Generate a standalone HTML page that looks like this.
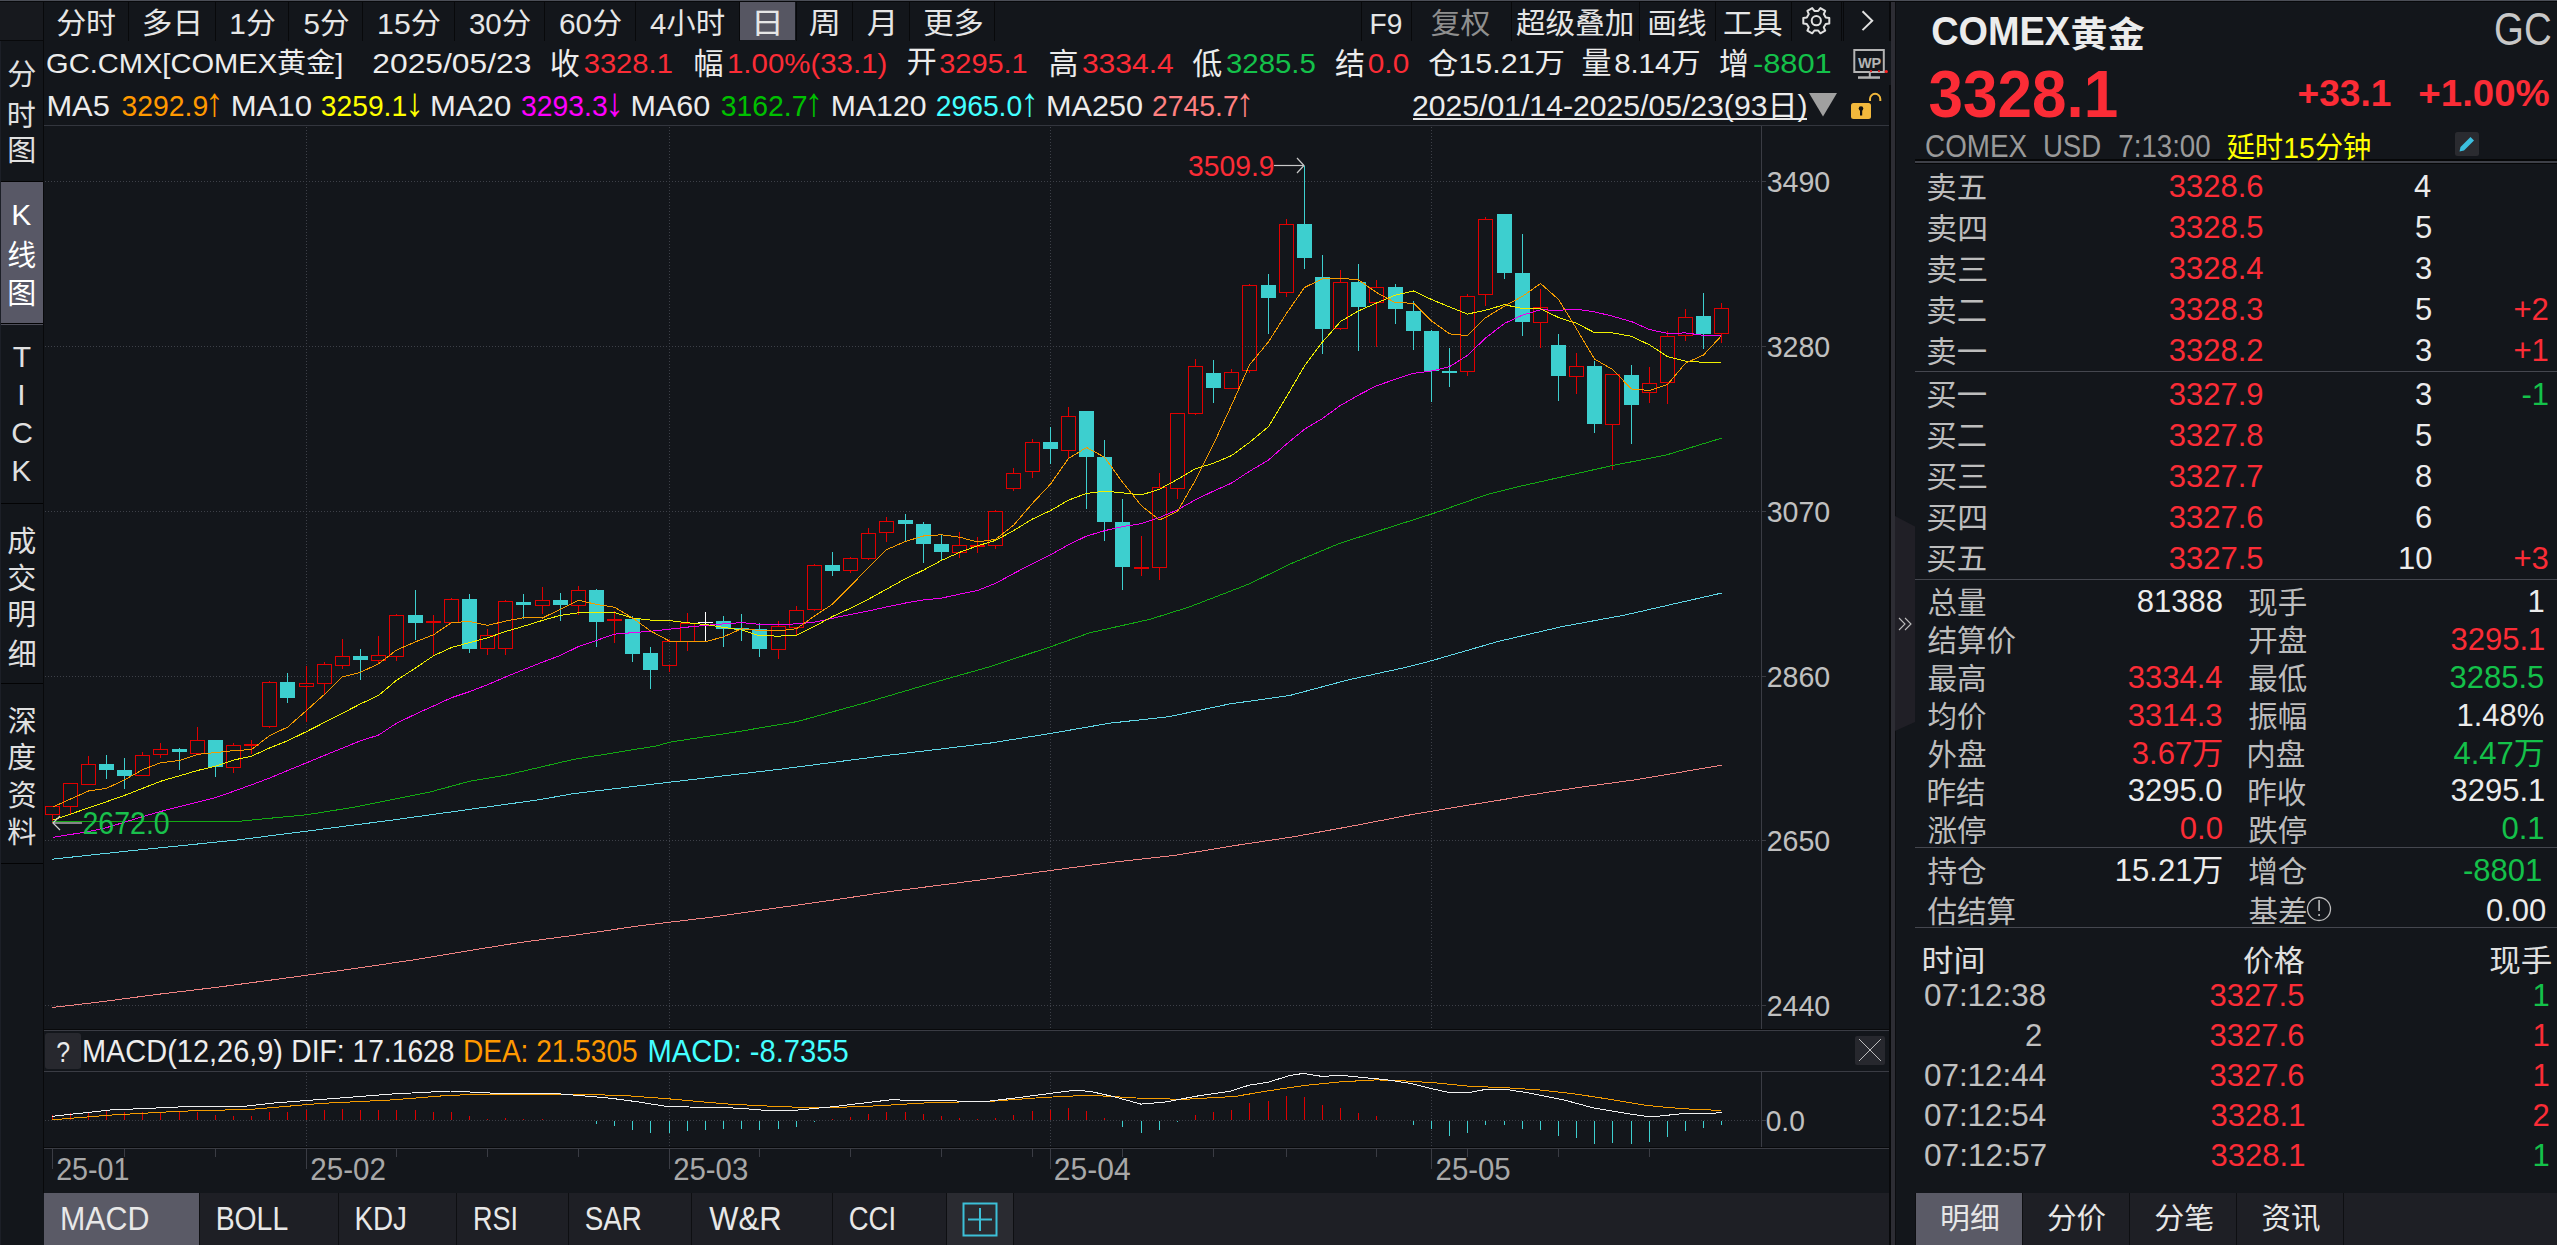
<!DOCTYPE html>
<html><head><meta charset="utf-8"><title>COMEX黄金 GC K线图</title>
<style>html,body{margin:0;padding:0;background:#13161b;overflow:hidden;} svg{display:block;}</style></head>
<body><svg width="2557" height="1245" viewBox="0 0 2557 1245"><rect x="0" y="0" width="2557" height="1245" fill="#13161b" shape-rendering="crispEdges" />
<rect x="0" y="0" width="2557" height="1" fill="#4b4e57" shape-rendering="crispEdges"/>
<rect x="0" y="1" width="2557" height="1" fill="#08090b" shape-rendering="crispEdges"/>
<rect x="0" y="2" width="43" height="38" fill="#17191e" shape-rendering="crispEdges" />
<rect x="0" y="40" width="44" height="1" fill="#08090b" shape-rendering="crispEdges"/>
<rect x="1" y="181" width="42" height="1" fill="#030304" shape-rendering="crispEdges"/>
<rect x="1" y="323" width="42" height="1" fill="#030304" shape-rendering="crispEdges"/>
<rect x="1" y="503" width="42" height="1" fill="#030304" shape-rendering="crispEdges"/>
<rect x="1" y="683" width="42" height="1" fill="#030304" shape-rendering="crispEdges"/>
<rect x="1" y="863" width="42" height="1" fill="#030304" shape-rendering="crispEdges"/>
<rect x="1" y="324" width="42" height="1" fill="#4e4e5a" shape-rendering="crispEdges"/>
<rect x="0" y="41" width="1" height="1204" fill="#1c1f27" shape-rendering="crispEdges"/>
<rect x="43" y="2" width="1" height="1191" fill="#08090b" shape-rendering="crispEdges"/>
<rect x="1" y="182" width="42" height="141" fill="#585866" shape-rendering="crispEdges" />
<rect x="128" y="2" width="1" height="39" fill="#08090b" shape-rendering="crispEdges"/>
<rect x="215" y="2" width="1" height="39" fill="#08090b" shape-rendering="crispEdges"/>
<rect x="288" y="2" width="1" height="39" fill="#08090b" shape-rendering="crispEdges"/>
<rect x="362" y="2" width="1" height="39" fill="#08090b" shape-rendering="crispEdges"/>
<rect x="454" y="2" width="1" height="39" fill="#08090b" shape-rendering="crispEdges"/>
<rect x="544" y="2" width="1" height="39" fill="#08090b" shape-rendering="crispEdges"/>
<rect x="635" y="2" width="1" height="39" fill="#08090b" shape-rendering="crispEdges"/>
<rect x="739" y="2" width="1" height="39" fill="#08090b" shape-rendering="crispEdges"/>
<rect x="796" y="2" width="1" height="39" fill="#08090b" shape-rendering="crispEdges"/>
<rect x="852" y="2" width="1" height="39" fill="#08090b" shape-rendering="crispEdges"/>
<rect x="909" y="2" width="1" height="39" fill="#08090b" shape-rendering="crispEdges"/>
<rect x="994" y="2" width="1" height="39" fill="#08090b" shape-rendering="crispEdges"/>
<rect x="1361" y="2" width="1" height="39" fill="#08090b" shape-rendering="crispEdges"/>
<rect x="1411" y="2" width="1" height="39" fill="#08090b" shape-rendering="crispEdges"/>
<rect x="1511" y="2" width="1" height="39" fill="#08090b" shape-rendering="crispEdges"/>
<rect x="1639" y="2" width="1" height="39" fill="#08090b" shape-rendering="crispEdges"/>
<rect x="1715" y="2" width="1" height="39" fill="#08090b" shape-rendering="crispEdges"/>
<rect x="1791" y="2" width="1" height="39" fill="#08090b" shape-rendering="crispEdges"/>
<rect x="1841" y="2" width="1" height="39" fill="#08090b" shape-rendering="crispEdges"/>
<rect x="1843" y="2" width="1" height="39" fill="#08090b" shape-rendering="crispEdges"/>
<rect x="740" y="2" width="55" height="38" fill="#565662" shape-rendering="crispEdges" />
<rect x="44" y="125" width="1845" height="1" fill="#33363e" shape-rendering="crispEdges"/>
<rect x="1889" y="2" width="2" height="39" fill="#08090b" shape-rendering="crispEdges"/>
<rect x="1889" y="85" width="2" height="1160" fill="#08090b" shape-rendering="crispEdges"/>
<rect x="1891" y="2" width="4" height="1243" fill="#2d2d34" shape-rendering="crispEdges"/>
<rect x="1895" y="2" width="1" height="1243" fill="#0c0d10" shape-rendering="crispEdges"/>
<rect x="1761" y="126" width="1" height="903" fill="#3a3c44" shape-rendering="crispEdges"/>
<rect x="1761" y="1072" width="1" height="75" fill="#3a3c44" shape-rendering="crispEdges"/>
<rect x="44" y="1029" width="1845" height="1" fill="#08090b" shape-rendering="crispEdges"/>
<rect x="44" y="1030" width="1845" height="1" fill="#3a3c44" shape-rendering="crispEdges"/>
<rect x="44" y="1071" width="1845" height="1" fill="#3a3c44" shape-rendering="crispEdges"/>
<rect x="44" y="1147" width="1845" height="1" fill="#08090b" shape-rendering="crispEdges"/>
<rect x="44" y="1148" width="1845" height="1" fill="#3a3c44" shape-rendering="crispEdges"/>
<line x1="45" y1="181.5" x2="1761" y2="181.5" stroke="#3d4048" stroke-width="1" stroke-dasharray="1 2"/>
<rect x="1762" y="181" width="4" height="1" fill="#3a3c44" shape-rendering="crispEdges"/>
<line x1="45" y1="346.5" x2="1761" y2="346.5" stroke="#3d4048" stroke-width="1" stroke-dasharray="1 2"/>
<rect x="1762" y="346" width="4" height="1" fill="#3a3c44" shape-rendering="crispEdges"/>
<line x1="45" y1="511.5" x2="1761" y2="511.5" stroke="#3d4048" stroke-width="1" stroke-dasharray="1 2"/>
<rect x="1762" y="511" width="4" height="1" fill="#3a3c44" shape-rendering="crispEdges"/>
<line x1="45" y1="676.5" x2="1761" y2="676.5" stroke="#3d4048" stroke-width="1" stroke-dasharray="1 2"/>
<rect x="1762" y="676" width="4" height="1" fill="#3a3c44" shape-rendering="crispEdges"/>
<line x1="45" y1="840.5" x2="1761" y2="840.5" stroke="#3d4048" stroke-width="1" stroke-dasharray="1 2"/>
<rect x="1762" y="840" width="4" height="1" fill="#3a3c44" shape-rendering="crispEdges"/>
<line x1="45" y1="1005.5" x2="1761" y2="1005.5" stroke="#3d4048" stroke-width="1" stroke-dasharray="1 2"/>
<rect x="1762" y="1005" width="4" height="1" fill="#3a3c44" shape-rendering="crispEdges"/>
<line x1="306.5" y1="127" x2="306.5" y2="1029" stroke="#3d4048" stroke-width="1" stroke-dasharray="1 2"/>
<line x1="306.5" y1="1073" x2="306.5" y2="1147" stroke="#3d4048" stroke-width="1" stroke-dasharray="1 2"/>
<line x1="669.5" y1="127" x2="669.5" y2="1029" stroke="#3d4048" stroke-width="1" stroke-dasharray="1 2"/>
<line x1="669.5" y1="1073" x2="669.5" y2="1147" stroke="#3d4048" stroke-width="1" stroke-dasharray="1 2"/>
<line x1="1050.5" y1="127" x2="1050.5" y2="1029" stroke="#3d4048" stroke-width="1" stroke-dasharray="1 2"/>
<line x1="1050.5" y1="1073" x2="1050.5" y2="1147" stroke="#3d4048" stroke-width="1" stroke-dasharray="1 2"/>
<line x1="1431.5" y1="127" x2="1431.5" y2="1029" stroke="#3d4048" stroke-width="1" stroke-dasharray="1 2"/>
<line x1="1431.5" y1="1073" x2="1431.5" y2="1147" stroke="#3d4048" stroke-width="1" stroke-dasharray="1 2"/>
<line x1="45" y1="1120.5" x2="1761" y2="1120.5" stroke="#3d4048" stroke-width="1" stroke-dasharray="1 2"/>
<rect x="1762" y="1120" width="4" height="1" fill="#3a3c44" shape-rendering="crispEdges"/>
<rect x="52" y="814" width="1" height="9" fill="#e00000" shape-rendering="crispEdges"/>
<rect x="45.5" y="806.5" width="14" height="8" fill="none" stroke="#e00000" stroke-width="1" shape-rendering="crispEdges"/>
<rect x="70" y="806" width="1" height="8" fill="#e00000" shape-rendering="crispEdges"/>
<rect x="63.5" y="783.5" width="14" height="23" fill="none" stroke="#e00000" stroke-width="1" shape-rendering="crispEdges"/>
<rect x="88" y="756" width="1" height="8" fill="#e00000" shape-rendering="crispEdges"/>
<rect x="81.5" y="764.5" width="14" height="20" fill="none" stroke="#e00000" stroke-width="1" shape-rendering="crispEdges"/>
<rect x="106" y="755" width="1" height="24" fill="#3dcfcf" shape-rendering="crispEdges"/>
<rect x="99" y="764" width="15" height="6" fill="#3dcfcf" shape-rendering="crispEdges" />
<rect x="124" y="758" width="1" height="31" fill="#3dcfcf" shape-rendering="crispEdges"/>
<rect x="117" y="770" width="15" height="6" fill="#3dcfcf" shape-rendering="crispEdges" />
<rect x="142" y="752" width="1" height="3" fill="#e00000" shape-rendering="crispEdges"/>
<rect x="135.5" y="755.5" width="14" height="20" fill="none" stroke="#e00000" stroke-width="1" shape-rendering="crispEdges"/>
<rect x="160" y="743" width="1" height="6" fill="#e00000" shape-rendering="crispEdges"/>
<rect x="160" y="754" width="1" height="4" fill="#e00000" shape-rendering="crispEdges"/>
<rect x="153.5" y="749.5" width="14" height="5" fill="none" stroke="#e00000" stroke-width="1" shape-rendering="crispEdges"/>
<rect x="179" y="748" width="1" height="22" fill="#3dcfcf" shape-rendering="crispEdges"/>
<rect x="172" y="749" width="15" height="3" fill="#3dcfcf" shape-rendering="crispEdges" />
<rect x="197" y="727" width="1" height="13" fill="#e00000" shape-rendering="crispEdges"/>
<rect x="190.5" y="740.5" width="14" height="13" fill="none" stroke="#e00000" stroke-width="1" shape-rendering="crispEdges"/>
<rect x="215" y="740" width="1" height="37" fill="#3dcfcf" shape-rendering="crispEdges"/>
<rect x="208" y="740" width="15" height="27" fill="#3dcfcf" shape-rendering="crispEdges" />
<rect x="233" y="743" width="1" height="2" fill="#e00000" shape-rendering="crispEdges"/>
<rect x="233" y="767" width="1" height="6" fill="#e00000" shape-rendering="crispEdges"/>
<rect x="226.5" y="745.5" width="14" height="22" fill="none" stroke="#e00000" stroke-width="1" shape-rendering="crispEdges"/>
<rect x="251" y="740" width="1" height="4" fill="#e00000" shape-rendering="crispEdges"/>
<rect x="251" y="745" width="1" height="9" fill="#e00000" shape-rendering="crispEdges"/>
<rect x="244" y="744" width="15" height="2" fill="#e00000" shape-rendering="crispEdges" />
<rect x="269" y="681" width="1" height="1" fill="#e00000" shape-rendering="crispEdges"/>
<rect x="269" y="726" width="1" height="2" fill="#e00000" shape-rendering="crispEdges"/>
<rect x="262.5" y="682.5" width="14" height="44" fill="none" stroke="#e00000" stroke-width="1" shape-rendering="crispEdges"/>
<rect x="287" y="673" width="1" height="30" fill="#3dcfcf" shape-rendering="crispEdges"/>
<rect x="280" y="682" width="15" height="16" fill="#3dcfcf" shape-rendering="crispEdges" />
<rect x="306" y="666" width="1" height="17" fill="#e00000" shape-rendering="crispEdges"/>
<rect x="306" y="686" width="1" height="36" fill="#e00000" shape-rendering="crispEdges"/>
<rect x="299.5" y="683.5" width="14" height="3" fill="none" stroke="#e00000" stroke-width="1" shape-rendering="crispEdges"/>
<rect x="324" y="662" width="1" height="2" fill="#e00000" shape-rendering="crispEdges"/>
<rect x="324" y="683" width="1" height="11" fill="#e00000" shape-rendering="crispEdges"/>
<rect x="317.5" y="664.5" width="14" height="19" fill="none" stroke="#e00000" stroke-width="1" shape-rendering="crispEdges"/>
<rect x="342" y="639" width="1" height="17" fill="#e00000" shape-rendering="crispEdges"/>
<rect x="342" y="665" width="1" height="4" fill="#e00000" shape-rendering="crispEdges"/>
<rect x="335.5" y="656.5" width="14" height="9" fill="none" stroke="#e00000" stroke-width="1" shape-rendering="crispEdges"/>
<rect x="360" y="649" width="1" height="31" fill="#3dcfcf" shape-rendering="crispEdges"/>
<rect x="353" y="656" width="15" height="4" fill="#3dcfcf" shape-rendering="crispEdges" />
<rect x="378" y="636" width="1" height="19" fill="#e00000" shape-rendering="crispEdges"/>
<rect x="378" y="660" width="1" height="4" fill="#e00000" shape-rendering="crispEdges"/>
<rect x="371.5" y="655.5" width="14" height="5" fill="none" stroke="#e00000" stroke-width="1" shape-rendering="crispEdges"/>
<rect x="396" y="614" width="1" height="1" fill="#e00000" shape-rendering="crispEdges"/>
<rect x="396" y="656" width="1" height="5" fill="#e00000" shape-rendering="crispEdges"/>
<rect x="389.5" y="615.5" width="14" height="41" fill="none" stroke="#e00000" stroke-width="1" shape-rendering="crispEdges"/>
<rect x="415" y="590" width="1" height="50" fill="#3dcfcf" shape-rendering="crispEdges"/>
<rect x="408" y="615" width="15" height="8" fill="#3dcfcf" shape-rendering="crispEdges" />
<rect x="433" y="615" width="1" height="6" fill="#e00000" shape-rendering="crispEdges"/>
<rect x="433" y="623" width="1" height="33" fill="#e00000" shape-rendering="crispEdges"/>
<rect x="426" y="621" width="15" height="2" fill="#e00000" shape-rendering="crispEdges" />
<rect x="451" y="598" width="1" height="1" fill="#e00000" shape-rendering="crispEdges"/>
<rect x="444.5" y="599.5" width="14" height="23" fill="none" stroke="#e00000" stroke-width="1" shape-rendering="crispEdges"/>
<rect x="469" y="594" width="1" height="59" fill="#3dcfcf" shape-rendering="crispEdges"/>
<rect x="462" y="599" width="15" height="50" fill="#3dcfcf" shape-rendering="crispEdges" />
<rect x="487" y="629" width="1" height="6" fill="#e00000" shape-rendering="crispEdges"/>
<rect x="487" y="648" width="1" height="7" fill="#e00000" shape-rendering="crispEdges"/>
<rect x="480.5" y="635.5" width="14" height="13" fill="none" stroke="#e00000" stroke-width="1" shape-rendering="crispEdges"/>
<rect x="505" y="600" width="1" height="1" fill="#e00000" shape-rendering="crispEdges"/>
<rect x="505" y="648" width="1" height="7" fill="#e00000" shape-rendering="crispEdges"/>
<rect x="498.5" y="601.5" width="14" height="47" fill="none" stroke="#e00000" stroke-width="1" shape-rendering="crispEdges"/>
<rect x="523" y="594" width="1" height="25" fill="#3dcfcf" shape-rendering="crispEdges"/>
<rect x="516" y="602" width="15" height="3" fill="#3dcfcf" shape-rendering="crispEdges" />
<rect x="542" y="587" width="1" height="13" fill="#e00000" shape-rendering="crispEdges"/>
<rect x="542" y="605" width="1" height="9" fill="#e00000" shape-rendering="crispEdges"/>
<rect x="535.5" y="600.5" width="14" height="5" fill="none" stroke="#e00000" stroke-width="1" shape-rendering="crispEdges"/>
<rect x="560" y="593" width="1" height="28" fill="#3dcfcf" shape-rendering="crispEdges"/>
<rect x="553" y="600" width="15" height="5" fill="#3dcfcf" shape-rendering="crispEdges" />
<rect x="578" y="586" width="1" height="4" fill="#e00000" shape-rendering="crispEdges"/>
<rect x="578" y="605" width="1" height="10" fill="#e00000" shape-rendering="crispEdges"/>
<rect x="571.5" y="590.5" width="14" height="15" fill="none" stroke="#e00000" stroke-width="1" shape-rendering="crispEdges"/>
<rect x="596" y="589" width="1" height="58" fill="#3dcfcf" shape-rendering="crispEdges"/>
<rect x="589" y="590" width="15" height="32" fill="#3dcfcf" shape-rendering="crispEdges" />
<rect x="614" y="611" width="1" height="8" fill="#e00000" shape-rendering="crispEdges"/>
<rect x="614" y="621" width="1" height="22" fill="#e00000" shape-rendering="crispEdges"/>
<rect x="607" y="619" width="15" height="2" fill="#e00000" shape-rendering="crispEdges" />
<rect x="632" y="616" width="1" height="46" fill="#3dcfcf" shape-rendering="crispEdges"/>
<rect x="625" y="619" width="15" height="35" fill="#3dcfcf" shape-rendering="crispEdges" />
<rect x="650" y="647" width="1" height="42" fill="#3dcfcf" shape-rendering="crispEdges"/>
<rect x="643" y="653" width="15" height="17" fill="#3dcfcf" shape-rendering="crispEdges" />
<rect x="669" y="639" width="1" height="2" fill="#e00000" shape-rendering="crispEdges"/>
<rect x="669" y="665" width="1" height="7" fill="#e00000" shape-rendering="crispEdges"/>
<rect x="662.5" y="641.5" width="14" height="24" fill="none" stroke="#e00000" stroke-width="1" shape-rendering="crispEdges"/>
<rect x="687" y="613" width="1" height="10" fill="#e00000" shape-rendering="crispEdges"/>
<rect x="687" y="641" width="1" height="10" fill="#e00000" shape-rendering="crispEdges"/>
<rect x="680.5" y="623.5" width="14" height="18" fill="none" stroke="#e00000" stroke-width="1" shape-rendering="crispEdges"/>
<rect x="705" y="612" width="1" height="30" fill="#ffffff" shape-rendering="crispEdges"/>
<rect x="698" y="622" width="15" height="1" fill="#ffffff" shape-rendering="crispEdges" />
<rect x="723" y="616" width="1" height="31" fill="#3dcfcf" shape-rendering="crispEdges"/>
<rect x="716" y="621" width="15" height="8" fill="#3dcfcf" shape-rendering="crispEdges" />
<rect x="741" y="614" width="1" height="27" fill="#3dcfcf" shape-rendering="crispEdges"/>
<rect x="734" y="628" width="15" height="2" fill="#3dcfcf" shape-rendering="crispEdges" />
<rect x="759" y="623" width="1" height="34" fill="#3dcfcf" shape-rendering="crispEdges"/>
<rect x="752" y="629" width="15" height="20" fill="#3dcfcf" shape-rendering="crispEdges" />
<rect x="778" y="621" width="1" height="5" fill="#e00000" shape-rendering="crispEdges"/>
<rect x="778" y="649" width="1" height="10" fill="#e00000" shape-rendering="crispEdges"/>
<rect x="771.5" y="626.5" width="14" height="23" fill="none" stroke="#e00000" stroke-width="1" shape-rendering="crispEdges"/>
<rect x="796" y="606" width="1" height="4" fill="#e00000" shape-rendering="crispEdges"/>
<rect x="796" y="627" width="1" height="8" fill="#e00000" shape-rendering="crispEdges"/>
<rect x="789.5" y="610.5" width="14" height="17" fill="none" stroke="#e00000" stroke-width="1" shape-rendering="crispEdges"/>
<rect x="814" y="564" width="1" height="1" fill="#e00000" shape-rendering="crispEdges"/>
<rect x="814" y="609" width="1" height="2" fill="#e00000" shape-rendering="crispEdges"/>
<rect x="807.5" y="565.5" width="14" height="44" fill="none" stroke="#e00000" stroke-width="1" shape-rendering="crispEdges"/>
<rect x="832" y="552" width="1" height="24" fill="#3dcfcf" shape-rendering="crispEdges"/>
<rect x="825" y="565" width="15" height="6" fill="#3dcfcf" shape-rendering="crispEdges" />
<rect x="850" y="557" width="1" height="1" fill="#e00000" shape-rendering="crispEdges"/>
<rect x="850" y="570" width="1" height="3" fill="#e00000" shape-rendering="crispEdges"/>
<rect x="843.5" y="558.5" width="14" height="12" fill="none" stroke="#e00000" stroke-width="1" shape-rendering="crispEdges"/>
<rect x="868" y="528" width="1" height="5" fill="#e00000" shape-rendering="crispEdges"/>
<rect x="868" y="558" width="1" height="2" fill="#e00000" shape-rendering="crispEdges"/>
<rect x="861.5" y="533.5" width="14" height="25" fill="none" stroke="#e00000" stroke-width="1" shape-rendering="crispEdges"/>
<rect x="886" y="517" width="1" height="4" fill="#e00000" shape-rendering="crispEdges"/>
<rect x="886" y="532" width="1" height="10" fill="#e00000" shape-rendering="crispEdges"/>
<rect x="879.5" y="521.5" width="14" height="11" fill="none" stroke="#e00000" stroke-width="1" shape-rendering="crispEdges"/>
<rect x="905" y="514" width="1" height="27" fill="#3dcfcf" shape-rendering="crispEdges"/>
<rect x="898" y="520" width="15" height="4" fill="#3dcfcf" shape-rendering="crispEdges" />
<rect x="923" y="522" width="1" height="41" fill="#3dcfcf" shape-rendering="crispEdges"/>
<rect x="916" y="524" width="15" height="20" fill="#3dcfcf" shape-rendering="crispEdges" />
<rect x="941" y="535" width="1" height="26" fill="#3dcfcf" shape-rendering="crispEdges"/>
<rect x="934" y="544" width="15" height="8" fill="#3dcfcf" shape-rendering="crispEdges" />
<rect x="959" y="532" width="1" height="13" fill="#e00000" shape-rendering="crispEdges"/>
<rect x="959" y="552" width="1" height="6" fill="#e00000" shape-rendering="crispEdges"/>
<rect x="952.5" y="545.5" width="14" height="7" fill="none" stroke="#e00000" stroke-width="1" shape-rendering="crispEdges"/>
<rect x="977" y="537" width="1" height="8" fill="#e00000" shape-rendering="crispEdges"/>
<rect x="977" y="546" width="1" height="7" fill="#e00000" shape-rendering="crispEdges"/>
<rect x="970" y="545" width="15" height="2" fill="#e00000" shape-rendering="crispEdges" />
<rect x="995" y="510" width="1" height="1" fill="#e00000" shape-rendering="crispEdges"/>
<rect x="995" y="545" width="1" height="4" fill="#e00000" shape-rendering="crispEdges"/>
<rect x="988.5" y="511.5" width="14" height="34" fill="none" stroke="#e00000" stroke-width="1" shape-rendering="crispEdges"/>
<rect x="1013" y="468" width="1" height="5" fill="#e00000" shape-rendering="crispEdges"/>
<rect x="1013" y="488" width="1" height="3" fill="#e00000" shape-rendering="crispEdges"/>
<rect x="1006.5" y="473.5" width="14" height="15" fill="none" stroke="#e00000" stroke-width="1" shape-rendering="crispEdges"/>
<rect x="1032" y="439" width="1" height="3" fill="#e00000" shape-rendering="crispEdges"/>
<rect x="1032" y="471" width="1" height="7" fill="#e00000" shape-rendering="crispEdges"/>
<rect x="1025.5" y="442.5" width="14" height="29" fill="none" stroke="#e00000" stroke-width="1" shape-rendering="crispEdges"/>
<rect x="1050" y="427" width="1" height="37" fill="#3dcfcf" shape-rendering="crispEdges"/>
<rect x="1043" y="442" width="15" height="7" fill="#3dcfcf" shape-rendering="crispEdges" />
<rect x="1068" y="407" width="1" height="9" fill="#e00000" shape-rendering="crispEdges"/>
<rect x="1068" y="450" width="1" height="9" fill="#e00000" shape-rendering="crispEdges"/>
<rect x="1061.5" y="416.5" width="14" height="34" fill="none" stroke="#e00000" stroke-width="1" shape-rendering="crispEdges"/>
<rect x="1086" y="411" width="1" height="98" fill="#3dcfcf" shape-rendering="crispEdges"/>
<rect x="1079" y="411" width="15" height="46" fill="#3dcfcf" shape-rendering="crispEdges" />
<rect x="1104" y="440" width="1" height="101" fill="#3dcfcf" shape-rendering="crispEdges"/>
<rect x="1097" y="457" width="15" height="65" fill="#3dcfcf" shape-rendering="crispEdges" />
<rect x="1122" y="499" width="1" height="91" fill="#3dcfcf" shape-rendering="crispEdges"/>
<rect x="1115" y="522" width="15" height="45" fill="#3dcfcf" shape-rendering="crispEdges" />
<rect x="1141" y="536" width="1" height="31" fill="#e00000" shape-rendering="crispEdges"/>
<rect x="1141" y="568" width="1" height="8" fill="#e00000" shape-rendering="crispEdges"/>
<rect x="1134" y="567" width="15" height="2" fill="#e00000" shape-rendering="crispEdges" />
<rect x="1159" y="473" width="1" height="14" fill="#e00000" shape-rendering="crispEdges"/>
<rect x="1159" y="567" width="1" height="13" fill="#e00000" shape-rendering="crispEdges"/>
<rect x="1152.5" y="487.5" width="14" height="80" fill="none" stroke="#e00000" stroke-width="1" shape-rendering="crispEdges"/>
<rect x="1177" y="488" width="1" height="11" fill="#e00000" shape-rendering="crispEdges"/>
<rect x="1170.5" y="413.5" width="14" height="75" fill="none" stroke="#e00000" stroke-width="1" shape-rendering="crispEdges"/>
<rect x="1195" y="359" width="1" height="7" fill="#e00000" shape-rendering="crispEdges"/>
<rect x="1195" y="413" width="1" height="2" fill="#e00000" shape-rendering="crispEdges"/>
<rect x="1188.5" y="366.5" width="14" height="47" fill="none" stroke="#e00000" stroke-width="1" shape-rendering="crispEdges"/>
<rect x="1213" y="360" width="1" height="43" fill="#3dcfcf" shape-rendering="crispEdges"/>
<rect x="1206" y="373" width="15" height="15" fill="#3dcfcf" shape-rendering="crispEdges" />
<rect x="1231" y="369" width="1" height="3" fill="#e00000" shape-rendering="crispEdges"/>
<rect x="1224.5" y="372.5" width="14" height="16" fill="none" stroke="#e00000" stroke-width="1" shape-rendering="crispEdges"/>
<rect x="1249" y="284" width="1" height="1" fill="#e00000" shape-rendering="crispEdges"/>
<rect x="1249" y="370" width="1" height="3" fill="#e00000" shape-rendering="crispEdges"/>
<rect x="1242.5" y="285.5" width="14" height="85" fill="none" stroke="#e00000" stroke-width="1" shape-rendering="crispEdges"/>
<rect x="1268" y="274" width="1" height="60" fill="#3dcfcf" shape-rendering="crispEdges"/>
<rect x="1261" y="285" width="15" height="13" fill="#3dcfcf" shape-rendering="crispEdges" />
<rect x="1286" y="219" width="1" height="5" fill="#e00000" shape-rendering="crispEdges"/>
<rect x="1286" y="292" width="1" height="5" fill="#e00000" shape-rendering="crispEdges"/>
<rect x="1279.5" y="224.5" width="14" height="68" fill="none" stroke="#e00000" stroke-width="1" shape-rendering="crispEdges"/>
<rect x="1304" y="166" width="1" height="103" fill="#3dcfcf" shape-rendering="crispEdges"/>
<rect x="1297" y="224" width="15" height="34" fill="#3dcfcf" shape-rendering="crispEdges" />
<rect x="1322" y="255" width="1" height="99" fill="#3dcfcf" shape-rendering="crispEdges"/>
<rect x="1315" y="277" width="15" height="52" fill="#3dcfcf" shape-rendering="crispEdges" />
<rect x="1340" y="270" width="1" height="12" fill="#e00000" shape-rendering="crispEdges"/>
<rect x="1340" y="328" width="1" height="2" fill="#e00000" shape-rendering="crispEdges"/>
<rect x="1333.5" y="282.5" width="14" height="46" fill="none" stroke="#e00000" stroke-width="1" shape-rendering="crispEdges"/>
<rect x="1358" y="264" width="1" height="87" fill="#3dcfcf" shape-rendering="crispEdges"/>
<rect x="1351" y="282" width="15" height="25" fill="#3dcfcf" shape-rendering="crispEdges" />
<rect x="1376" y="280" width="1" height="7" fill="#e00000" shape-rendering="crispEdges"/>
<rect x="1376" y="302" width="1" height="45" fill="#e00000" shape-rendering="crispEdges"/>
<rect x="1369.5" y="287.5" width="14" height="15" fill="none" stroke="#e00000" stroke-width="1" shape-rendering="crispEdges"/>
<rect x="1395" y="284" width="1" height="40" fill="#3dcfcf" shape-rendering="crispEdges"/>
<rect x="1388" y="287" width="15" height="22" fill="#3dcfcf" shape-rendering="crispEdges" />
<rect x="1413" y="301" width="1" height="49" fill="#3dcfcf" shape-rendering="crispEdges"/>
<rect x="1406" y="311" width="15" height="20" fill="#3dcfcf" shape-rendering="crispEdges" />
<rect x="1431" y="330" width="1" height="72" fill="#3dcfcf" shape-rendering="crispEdges"/>
<rect x="1424" y="331" width="15" height="40" fill="#3dcfcf" shape-rendering="crispEdges" />
<rect x="1449" y="348" width="1" height="39" fill="#3dcfcf" shape-rendering="crispEdges"/>
<rect x="1442" y="371" width="15" height="2" fill="#3dcfcf" shape-rendering="crispEdges" />
<rect x="1467" y="294" width="1" height="2" fill="#e00000" shape-rendering="crispEdges"/>
<rect x="1467" y="371" width="1" height="5" fill="#e00000" shape-rendering="crispEdges"/>
<rect x="1460.5" y="296.5" width="14" height="75" fill="none" stroke="#e00000" stroke-width="1" shape-rendering="crispEdges"/>
<rect x="1485" y="217" width="1" height="2" fill="#e00000" shape-rendering="crispEdges"/>
<rect x="1485" y="294" width="1" height="12" fill="#e00000" shape-rendering="crispEdges"/>
<rect x="1478.5" y="219.5" width="14" height="75" fill="none" stroke="#e00000" stroke-width="1" shape-rendering="crispEdges"/>
<rect x="1504" y="214" width="1" height="65" fill="#3dcfcf" shape-rendering="crispEdges"/>
<rect x="1497" y="214" width="15" height="59" fill="#3dcfcf" shape-rendering="crispEdges" />
<rect x="1522" y="234" width="1" height="102" fill="#3dcfcf" shape-rendering="crispEdges"/>
<rect x="1515" y="273" width="15" height="49" fill="#3dcfcf" shape-rendering="crispEdges" />
<rect x="1540" y="289" width="1" height="18" fill="#e00000" shape-rendering="crispEdges"/>
<rect x="1540" y="322" width="1" height="26" fill="#e00000" shape-rendering="crispEdges"/>
<rect x="1533.5" y="307.5" width="14" height="15" fill="none" stroke="#e00000" stroke-width="1" shape-rendering="crispEdges"/>
<rect x="1558" y="334" width="1" height="67" fill="#3dcfcf" shape-rendering="crispEdges"/>
<rect x="1551" y="345" width="15" height="31" fill="#3dcfcf" shape-rendering="crispEdges" />
<rect x="1576" y="353" width="1" height="13" fill="#e00000" shape-rendering="crispEdges"/>
<rect x="1576" y="376" width="1" height="18" fill="#e00000" shape-rendering="crispEdges"/>
<rect x="1569.5" y="366.5" width="14" height="10" fill="none" stroke="#e00000" stroke-width="1" shape-rendering="crispEdges"/>
<rect x="1594" y="361" width="1" height="72" fill="#3dcfcf" shape-rendering="crispEdges"/>
<rect x="1587" y="366" width="15" height="58" fill="#3dcfcf" shape-rendering="crispEdges" />
<rect x="1612" y="424" width="1" height="46" fill="#e00000" shape-rendering="crispEdges"/>
<rect x="1605.5" y="374.5" width="14" height="50" fill="none" stroke="#e00000" stroke-width="1" shape-rendering="crispEdges"/>
<rect x="1631" y="365" width="1" height="79" fill="#3dcfcf" shape-rendering="crispEdges"/>
<rect x="1624" y="375" width="15" height="30" fill="#3dcfcf" shape-rendering="crispEdges" />
<rect x="1649" y="367" width="1" height="16" fill="#e00000" shape-rendering="crispEdges"/>
<rect x="1649" y="392" width="1" height="11" fill="#e00000" shape-rendering="crispEdges"/>
<rect x="1642.5" y="383.5" width="14" height="9" fill="none" stroke="#e00000" stroke-width="1" shape-rendering="crispEdges"/>
<rect x="1667" y="331" width="1" height="5" fill="#e00000" shape-rendering="crispEdges"/>
<rect x="1667" y="382" width="1" height="22" fill="#e00000" shape-rendering="crispEdges"/>
<rect x="1660.5" y="336.5" width="14" height="46" fill="none" stroke="#e00000" stroke-width="1" shape-rendering="crispEdges"/>
<rect x="1685" y="309" width="1" height="8" fill="#e00000" shape-rendering="crispEdges"/>
<rect x="1685" y="335" width="1" height="6" fill="#e00000" shape-rendering="crispEdges"/>
<rect x="1678.5" y="317.5" width="14" height="18" fill="none" stroke="#e00000" stroke-width="1" shape-rendering="crispEdges"/>
<rect x="1703" y="293" width="1" height="56" fill="#3dcfcf" shape-rendering="crispEdges"/>
<rect x="1696" y="316" width="15" height="18" fill="#3dcfcf" shape-rendering="crispEdges" />
<rect x="1721" y="303" width="1" height="5" fill="#e00000" shape-rendering="crispEdges"/>
<rect x="1721" y="333" width="1" height="10" fill="#e00000" shape-rendering="crispEdges"/>
<rect x="1714.5" y="308.5" width="14" height="25" fill="none" stroke="#e00000" stroke-width="1" shape-rendering="crispEdges"/>
<polyline points="52.1,1007.5 98.7,1002.1 157.3,994.4 216.0,987.4 274.6,979.6 306.3,975.3 352.9,968.8 411.5,960.2 470.2,950.4 520.0,942.5 578.7,934.7 637.3,926.1 669.6,922.2 715.5,916.7 774.2,908.3 832.9,900.1 891.5,891.3 950.2,883.9 1000.0,877.3 1050.4,870.5 1117.3,861.7 1176.0,855.2 1234.6,845.6 1293.3,836.8 1352.0,826.1 1410.6,814.8 1431.8,811.2 1469.3,805.0 1500.0,800.1 1530.8,794.9 1581.7,787.0 1632.5,780.2 1683.4,771.7 1721.5,765.2" fill="none" stroke="#f08282" stroke-width="1" stroke-linejoin="round" shape-rendering="crispEdges"/>
<polyline points="52.1,859.2 137.8,850.0 235.5,840.2 306.3,831.2 392.0,820.1 470.2,809.3 540.0,799.6 573.6,793.6 669.4,782.2 780.9,769.1 884.5,755.7 990.0,743.1 1050.4,733.5 1109.7,723.2 1169.5,716.6 1229.3,704.0 1289.2,695.6 1349.0,679.7 1408.8,666.7 1431.6,660.7 1498.8,641.3 1561.5,626.7 1624.1,615.2 1721.5,593.1" fill="none" stroke="#5fd7e6" stroke-width="1" stroke-linejoin="round" shape-rendering="crispEdges"/>
<polyline points="52.1,821.1 241.4,821.1 261.0,819.1 306.3,814.8 352.9,807.4 392.0,799.6 431.1,791.7 470.0,781.2 505.2,775.3 573.6,759.4 656.5,745.9 669.4,742.2 739.5,731.4 797.5,721.5 863.8,703.2 942.6,680.0 990.0,666.7 1050.4,646.8 1089.7,632.8 1149.6,619.4 1189.5,606.9 1249.3,583.9 1290.0,564.1 1340.1,543.2 1431.6,514.0 1488.4,494.1 1519.7,486.4 1612.6,465.5 1665.9,455.1 1721.5,438.2" fill="none" stroke="#13a813" stroke-width="1" stroke-linejoin="round" shape-rendering="crispEdges"/>
<polyline points="52.5,837.4 70.5,834.5 88.5,831.6 106.5,827.6 124.5,822.2 142.5,816.7 160.5,811.5 179.5,806.7 197.5,802.2 215.5,797.7 233.5,791.3 251.5,784.8 269.5,778.1 287.5,770.6 306.5,762.8 324.5,755.4 342.5,748.1 360.5,740.8 378.5,735.1 396.5,723.3 415.5,714.1 433.5,706.0 451.5,697.7 469.5,691.7 487.5,684.7 505.5,677.0 523.5,669.7 542.5,662.1 560.5,655.4 578.5,646.5 596.5,640.4 614.5,634.1 632.5,632.7 650.5,631.3 669.5,629.2 687.5,627.1 705.5,625.4 723.5,623.9 741.5,622.6 759.5,624.3 778.5,624.4 796.5,623.9 814.5,622.2 832.5,618.3 850.5,614.4 868.5,611.0 886.5,606.9 905.5,603.0 923.5,600.0 941.5,598.1 959.5,594.2 977.5,590.5 995.5,583.4 1013.5,573.6 1032.5,563.6 1050.5,554.9 1068.5,544.7 1086.5,536.1 1104.5,530.7 1122.5,526.6 1141.5,523.6 1159.5,517.5 1177.5,509.9 1195.5,499.7 1213.5,491.1 1231.5,483.1 1249.5,471.3 1268.5,460.0 1286.5,444.0 1304.5,429.3 1322.5,418.5 1340.5,405.4 1358.5,395.1 1376.5,385.8 1395.5,379.2 1413.5,373.3 1431.5,371.0 1449.5,366.7 1467.5,355.4 1485.5,338.1 1504.5,323.4 1522.5,315.1 1540.5,309.8 1558.5,310.3 1576.5,309.2 1594.5,311.8 1612.5,316.2 1631.5,321.6 1649.5,329.5 1667.5,333.4 1685.5,332.9 1703.5,335.4 1721.5,335.5" fill="none" stroke="#ee00ee" stroke-width="1" stroke-linejoin="round" shape-rendering="crispEdges"/>
<polyline points="52.5,820.3 70.5,814.1 88.5,807.9 106.5,801.7 124.5,795.4 142.5,788.4 160.5,781.3 179.5,775.8 197.5,770.5 215.5,766.2 233.5,760.1 251.5,756.2 269.5,748.0 287.5,740.8 306.5,731.6 324.5,722.4 342.5,713.2 360.5,703.9 378.5,695.5 396.5,680.3 415.5,668.0 433.5,655.8 451.5,647.5 469.5,642.6 487.5,637.8 505.5,631.5 523.5,626.3 542.5,620.4 560.5,615.3 578.5,612.8 596.5,612.7 614.5,612.5 632.5,618.0 650.5,620.1 669.5,620.6 687.5,622.8 705.5,624.5 723.5,627.4 741.5,629.9 759.5,635.7 778.5,636.1 796.5,635.3 814.5,626.4 832.5,616.5 850.5,608.2 868.5,599.2 886.5,589.2 905.5,578.7 923.5,570.1 941.5,560.4 959.5,552.4 977.5,545.8 995.5,540.4 1013.5,530.6 1032.5,519.0 1050.5,510.6 1068.5,500.1 1086.5,493.4 1104.5,491.2 1122.5,492.8 1141.5,494.9 1159.5,489.2 1177.5,479.4 1195.5,468.7 1213.5,463.2 1231.5,455.6 1249.5,442.4 1268.5,426.6 1286.5,396.8 1304.5,365.9 1322.5,342.0 1340.5,321.5 1358.5,310.9 1376.5,303.0 1395.5,295.1 1413.5,291.0 1431.5,299.5 1449.5,306.9 1467.5,314.1 1485.5,310.2 1504.5,304.7 1522.5,308.6 1540.5,308.7 1558.5,317.5 1576.5,323.3 1594.5,332.6 1612.5,332.9 1631.5,336.3 1649.5,344.9 1667.5,356.6 1685.5,361.1 1703.5,362.3 1721.5,362.4" fill="none" stroke="#f0f000" stroke-width="1" stroke-linejoin="round" shape-rendering="crispEdges"/>
<polyline points="52.5,807.2 70.5,799.0 88.5,791.0 106.5,788.3 124.5,779.9 142.5,769.7 160.5,762.8 179.5,760.4 197.5,754.4 215.5,752.6 233.5,750.6 251.5,749.6 269.5,735.6 287.5,727.2 306.5,710.5 324.5,694.3 342.5,676.8 360.5,672.3 378.5,663.8 396.5,650.1 415.5,641.8 433.5,634.8 451.5,622.7 469.5,621.4 487.5,625.4 505.5,621.1 523.5,617.8 542.5,618.0 560.5,609.2 578.5,600.2 596.5,604.4 614.5,607.2 632.5,617.9 650.5,630.9 669.5,641.1 687.5,641.3 705.5,641.8 723.5,636.8 741.5,628.8 759.5,630.4 778.5,631.0 796.5,628.7 814.5,616.0 832.5,604.2 850.5,586.0 868.5,567.5 886.5,549.7 905.5,541.4 923.5,536.0 941.5,534.8 959.5,537.2 977.5,541.9 995.5,539.4 1013.5,525.3 1032.5,503.3 1050.5,484.1 1068.5,458.4 1086.5,447.5 1104.5,457.2 1122.5,482.2 1141.5,505.8 1159.5,520.0 1177.5,511.3 1195.5,480.1 1213.5,444.3 1231.5,405.3 1249.5,364.9 1268.5,341.8 1286.5,313.4 1304.5,287.5 1322.5,278.7 1340.5,278.2 1358.5,279.9 1376.5,292.5 1395.5,302.7 1413.5,303.2 1431.5,320.9 1449.5,333.8 1467.5,335.7 1485.5,317.8 1504.5,306.1 1522.5,296.3 1540.5,283.5 1558.5,299.4 1576.5,328.8 1594.5,359.0 1612.5,369.5 1631.5,389.0 1649.5,390.5 1667.5,384.5 1685.5,363.2 1703.5,355.0 1721.5,335.7" fill="none" stroke="#f49b00" stroke-width="1" stroke-linejoin="round" shape-rendering="crispEdges"/>
<g stroke="#d0d0d0" stroke-width="1.2" fill="none"><line x1="53" y1="823" x2="82" y2="823"/><polyline points="60,816 53,823 60,830"/></g>
<g stroke="#c8c8c8" stroke-width="1.2" fill="none"><line x1="1274" y1="165.5" x2="1304" y2="165.5"/><polyline points="1297,158 1304,165.5 1297,173"/></g>
<rect x="52" y="1115" width="1" height="5" fill="#dd0000" shape-rendering="crispEdges"/>
<rect x="70" y="1113" width="1" height="7" fill="#dd0000" shape-rendering="crispEdges"/>
<rect x="88" y="1112" width="1" height="8" fill="#dd0000" shape-rendering="crispEdges"/>
<rect x="106" y="1111" width="1" height="9" fill="#dd0000" shape-rendering="crispEdges"/>
<rect x="124" y="1112" width="1" height="8" fill="#dd0000" shape-rendering="crispEdges"/>
<rect x="142" y="1112" width="1" height="8" fill="#dd0000" shape-rendering="crispEdges"/>
<rect x="160" y="1112" width="1" height="8" fill="#dd0000" shape-rendering="crispEdges"/>
<rect x="179" y="1112" width="1" height="8" fill="#dd0000" shape-rendering="crispEdges"/>
<rect x="197" y="1112" width="1" height="8" fill="#dd0000" shape-rendering="crispEdges"/>
<rect x="215" y="1115" width="1" height="5" fill="#dd0000" shape-rendering="crispEdges"/>
<rect x="233" y="1116" width="1" height="4" fill="#dd0000" shape-rendering="crispEdges"/>
<rect x="251" y="1116" width="1" height="4" fill="#dd0000" shape-rendering="crispEdges"/>
<rect x="269" y="1112" width="1" height="8" fill="#dd0000" shape-rendering="crispEdges"/>
<rect x="287" y="1112" width="1" height="8" fill="#dd0000" shape-rendering="crispEdges"/>
<rect x="306" y="1110" width="1" height="10" fill="#dd0000" shape-rendering="crispEdges"/>
<rect x="324" y="1110" width="1" height="10" fill="#dd0000" shape-rendering="crispEdges"/>
<rect x="342" y="1109" width="1" height="11" fill="#dd0000" shape-rendering="crispEdges"/>
<rect x="360" y="1110" width="1" height="10" fill="#dd0000" shape-rendering="crispEdges"/>
<rect x="378" y="1110" width="1" height="10" fill="#dd0000" shape-rendering="crispEdges"/>
<rect x="396" y="1110" width="1" height="10" fill="#dd0000" shape-rendering="crispEdges"/>
<rect x="415" y="1110" width="1" height="10" fill="#dd0000" shape-rendering="crispEdges"/>
<rect x="433" y="1112" width="1" height="8" fill="#dd0000" shape-rendering="crispEdges"/>
<rect x="451" y="1112" width="1" height="8" fill="#dd0000" shape-rendering="crispEdges"/>
<rect x="469" y="1116" width="1" height="4" fill="#dd0000" shape-rendering="crispEdges"/>
<rect x="487" y="1119" width="1" height="1" fill="#dd0000" shape-rendering="crispEdges"/>
<rect x="505" y="1118" width="1" height="2" fill="#dd0000" shape-rendering="crispEdges"/>
<rect x="523" y="1119" width="1" height="1" fill="#dd0000" shape-rendering="crispEdges"/>
<rect x="542" y="1119" width="1" height="1" fill="#dd0000" shape-rendering="crispEdges"/>
<rect x="560" y="1120" width="1" height="0" fill="#dd0000" shape-rendering="crispEdges"/>
<rect x="596" y="1121" width="1" height="3" fill="#3dcfcf" shape-rendering="crispEdges"/>
<rect x="614" y="1121" width="1" height="5" fill="#3dcfcf" shape-rendering="crispEdges"/>
<rect x="632" y="1121" width="1" height="9" fill="#3dcfcf" shape-rendering="crispEdges"/>
<rect x="650" y="1121" width="1" height="12" fill="#3dcfcf" shape-rendering="crispEdges"/>
<rect x="669" y="1121" width="1" height="12" fill="#3dcfcf" shape-rendering="crispEdges"/>
<rect x="687" y="1121" width="1" height="10" fill="#3dcfcf" shape-rendering="crispEdges"/>
<rect x="705" y="1121" width="1" height="9" fill="#3dcfcf" shape-rendering="crispEdges"/>
<rect x="723" y="1121" width="1" height="8" fill="#3dcfcf" shape-rendering="crispEdges"/>
<rect x="741" y="1121" width="1" height="8" fill="#3dcfcf" shape-rendering="crispEdges"/>
<rect x="759" y="1121" width="1" height="9" fill="#3dcfcf" shape-rendering="crispEdges"/>
<rect x="778" y="1121" width="1" height="8" fill="#3dcfcf" shape-rendering="crispEdges"/>
<rect x="796" y="1121" width="1" height="6" fill="#3dcfcf" shape-rendering="crispEdges"/>
<rect x="814" y="1121" width="1" height="1" fill="#3dcfcf" shape-rendering="crispEdges"/>
<rect x="832" y="1119" width="1" height="1" fill="#dd0000" shape-rendering="crispEdges"/>
<rect x="850" y="1117" width="1" height="3" fill="#dd0000" shape-rendering="crispEdges"/>
<rect x="868" y="1114" width="1" height="6" fill="#dd0000" shape-rendering="crispEdges"/>
<rect x="886" y="1112" width="1" height="8" fill="#dd0000" shape-rendering="crispEdges"/>
<rect x="905" y="1112" width="1" height="8" fill="#dd0000" shape-rendering="crispEdges"/>
<rect x="923" y="1114" width="1" height="6" fill="#dd0000" shape-rendering="crispEdges"/>
<rect x="941" y="1116" width="1" height="4" fill="#dd0000" shape-rendering="crispEdges"/>
<rect x="959" y="1118" width="1" height="2" fill="#dd0000" shape-rendering="crispEdges"/>
<rect x="977" y="1119" width="1" height="1" fill="#dd0000" shape-rendering="crispEdges"/>
<rect x="995" y="1118" width="1" height="2" fill="#dd0000" shape-rendering="crispEdges"/>
<rect x="1013" y="1115" width="1" height="5" fill="#dd0000" shape-rendering="crispEdges"/>
<rect x="1032" y="1111" width="1" height="9" fill="#dd0000" shape-rendering="crispEdges"/>
<rect x="1050" y="1110" width="1" height="10" fill="#dd0000" shape-rendering="crispEdges"/>
<rect x="1068" y="1108" width="1" height="12" fill="#dd0000" shape-rendering="crispEdges"/>
<rect x="1086" y="1111" width="1" height="9" fill="#dd0000" shape-rendering="crispEdges"/>
<rect x="1104" y="1118" width="1" height="2" fill="#dd0000" shape-rendering="crispEdges"/>
<rect x="1122" y="1121" width="1" height="6" fill="#3dcfcf" shape-rendering="crispEdges"/>
<rect x="1141" y="1121" width="1" height="12" fill="#3dcfcf" shape-rendering="crispEdges"/>
<rect x="1159" y="1121" width="1" height="9" fill="#3dcfcf" shape-rendering="crispEdges"/>
<rect x="1177" y="1121" width="1" height="1" fill="#3dcfcf" shape-rendering="crispEdges"/>
<rect x="1195" y="1115" width="1" height="5" fill="#dd0000" shape-rendering="crispEdges"/>
<rect x="1213" y="1112" width="1" height="8" fill="#dd0000" shape-rendering="crispEdges"/>
<rect x="1231" y="1110" width="1" height="10" fill="#dd0000" shape-rendering="crispEdges"/>
<rect x="1249" y="1103" width="1" height="17" fill="#dd0000" shape-rendering="crispEdges"/>
<rect x="1268" y="1101" width="1" height="19" fill="#dd0000" shape-rendering="crispEdges"/>
<rect x="1286" y="1096" width="1" height="24" fill="#dd0000" shape-rendering="crispEdges"/>
<rect x="1304" y="1097" width="1" height="23" fill="#dd0000" shape-rendering="crispEdges"/>
<rect x="1322" y="1105" width="1" height="15" fill="#dd0000" shape-rendering="crispEdges"/>
<rect x="1340" y="1108" width="1" height="12" fill="#dd0000" shape-rendering="crispEdges"/>
<rect x="1358" y="1113" width="1" height="7" fill="#dd0000" shape-rendering="crispEdges"/>
<rect x="1376" y="1116" width="1" height="4" fill="#dd0000" shape-rendering="crispEdges"/>
<rect x="1395" y="1120" width="1" height="0" fill="#dd0000" shape-rendering="crispEdges"/>
<rect x="1413" y="1121" width="1" height="4" fill="#3dcfcf" shape-rendering="crispEdges"/>
<rect x="1431" y="1121" width="1" height="8" fill="#3dcfcf" shape-rendering="crispEdges"/>
<rect x="1449" y="1121" width="1" height="15" fill="#3dcfcf" shape-rendering="crispEdges"/>
<rect x="1467" y="1121" width="1" height="12" fill="#3dcfcf" shape-rendering="crispEdges"/>
<rect x="1485" y="1121" width="1" height="4" fill="#3dcfcf" shape-rendering="crispEdges"/>
<rect x="1504" y="1121" width="1" height="4" fill="#3dcfcf" shape-rendering="crispEdges"/>
<rect x="1522" y="1121" width="1" height="8" fill="#3dcfcf" shape-rendering="crispEdges"/>
<rect x="1540" y="1121" width="1" height="9" fill="#3dcfcf" shape-rendering="crispEdges"/>
<rect x="1558" y="1121" width="1" height="15" fill="#3dcfcf" shape-rendering="crispEdges"/>
<rect x="1576" y="1121" width="1" height="17" fill="#3dcfcf" shape-rendering="crispEdges"/>
<rect x="1594" y="1121" width="1" height="23" fill="#3dcfcf" shape-rendering="crispEdges"/>
<rect x="1612" y="1121" width="1" height="22" fill="#3dcfcf" shape-rendering="crispEdges"/>
<rect x="1631" y="1121" width="1" height="23" fill="#3dcfcf" shape-rendering="crispEdges"/>
<rect x="1649" y="1121" width="1" height="21" fill="#3dcfcf" shape-rendering="crispEdges"/>
<rect x="1667" y="1121" width="1" height="16" fill="#3dcfcf" shape-rendering="crispEdges"/>
<rect x="1685" y="1121" width="1" height="10" fill="#3dcfcf" shape-rendering="crispEdges"/>
<rect x="1703" y="1121" width="1" height="7" fill="#3dcfcf" shape-rendering="crispEdges"/>
<rect x="1721" y="1121" width="1" height="4" fill="#3dcfcf" shape-rendering="crispEdges"/>
<polyline points="52.2,1119.8 110.4,1115.1 180.8,1111.2 251.2,1109.3 321.6,1103.4 392.0,1099.9 450.6,1095.2 509.3,1094.0 579.7,1094.7 620.0,1095.2 667.0,1098.7 725.6,1103.9 784.3,1106.9 831.2,1107.6 878.1,1105.8 936.8,1102.2 983.7,1101.8 1042.4,1097.5 1089.3,1095.2 1136.2,1098.0 1183.2,1099.4 1235.2,1096.4 1270.4,1090.5 1305.6,1085.3 1340.8,1081.8 1376.0,1079.9 1399.5,1080.6 1434.6,1082.8 1469.8,1086.3 1505.0,1087.7 1540.2,1090.0 1575.4,1094.0 1610.6,1099.4 1645.8,1105.3 1669.3,1107.6 1692.8,1109.3 1721.5,1110.4" fill="none" stroke="#f49b00" stroke-width="1" stroke-linejoin="round" shape-rendering="crispEdges"/>
<polyline points="52.2,1116.3 110.4,1110.0 180.8,1106.9 239.5,1106.9 274.6,1102.9 321.6,1099.4 392.0,1094.0 450.6,1091.0 509.3,1094.0 556.2,1093.6 603.2,1097.5 620.0,1099.4 640.0,1102.2 667.0,1106.5 737.3,1108.1 760.8,1110.0 798.3,1110.0 831.2,1106.9 854.6,1104.1 889.8,1099.9 936.8,1100.4 983.7,1101.8 1018.9,1097.5 1054.1,1092.9 1072.9,1090.5 1089.3,1091.2 1112.8,1096.4 1140.9,1104.1 1164.4,1102.2 1194.9,1096.4 1230.5,1091.2 1249.3,1085.1 1268.0,1082.3 1289.2,1075.7 1303.2,1073.4 1322.0,1076.4 1340.8,1075.3 1364.3,1077.6 1387.7,1079.9 1411.2,1083.5 1434.6,1089.3 1448.7,1092.4 1469.8,1092.4 1486.3,1089.3 1505.0,1089.3 1528.5,1092.9 1563.7,1099.9 1594.2,1108.1 1622.4,1112.8 1645.8,1116.3 1657.6,1116.3 1683.4,1113.5 1711.5,1113.5 1721.5,1112.3" fill="none" stroke="#f0f0f0" stroke-width="1" stroke-linejoin="round" shape-rendering="crispEdges"/>
<rect x="52" y="1149" width="1" height="20" fill="#3a3c44" shape-rendering="crispEdges"/>
<rect x="306" y="1149" width="1" height="20" fill="#3a3c44" shape-rendering="crispEdges"/>
<rect x="669" y="1149" width="1" height="20" fill="#3a3c44" shape-rendering="crispEdges"/>
<rect x="1050" y="1149" width="1" height="20" fill="#3a3c44" shape-rendering="crispEdges"/>
<rect x="1431" y="1149" width="1" height="20" fill="#3a3c44" shape-rendering="crispEdges"/>
<rect x="124" y="1149" width="1" height="8" fill="#3a3c44" shape-rendering="crispEdges"/>
<rect x="215" y="1149" width="1" height="8" fill="#3a3c44" shape-rendering="crispEdges"/>
<rect x="396" y="1149" width="1" height="8" fill="#3a3c44" shape-rendering="crispEdges"/>
<rect x="487" y="1149" width="1" height="8" fill="#3a3c44" shape-rendering="crispEdges"/>
<rect x="578" y="1149" width="1" height="8" fill="#3a3c44" shape-rendering="crispEdges"/>
<rect x="759" y="1149" width="1" height="8" fill="#3a3c44" shape-rendering="crispEdges"/>
<rect x="850" y="1149" width="1" height="8" fill="#3a3c44" shape-rendering="crispEdges"/>
<rect x="941" y="1149" width="1" height="8" fill="#3a3c44" shape-rendering="crispEdges"/>
<rect x="1032" y="1149" width="1" height="8" fill="#3a3c44" shape-rendering="crispEdges"/>
<rect x="1122" y="1149" width="1" height="8" fill="#3a3c44" shape-rendering="crispEdges"/>
<rect x="1213" y="1149" width="1" height="8" fill="#3a3c44" shape-rendering="crispEdges"/>
<rect x="1286" y="1149" width="1" height="8" fill="#3a3c44" shape-rendering="crispEdges"/>
<rect x="1376" y="1149" width="1" height="8" fill="#3a3c44" shape-rendering="crispEdges"/>
<rect x="1467" y="1149" width="1" height="8" fill="#3a3c44" shape-rendering="crispEdges"/>
<rect x="1558" y="1149" width="1" height="8" fill="#3a3c44" shape-rendering="crispEdges"/>
<rect x="1649" y="1149" width="1" height="8" fill="#3a3c44" shape-rendering="crispEdges"/>
<rect x="44" y="1193" width="1845" height="52" fill="#1e1f25" shape-rendering="crispEdges" />
<rect x="44" y="1193" width="155" height="52" fill="#5a5a66" shape-rendering="crispEdges" />
<rect x="947" y="1193" width="66" height="52" fill="#2a2b31" shape-rendering="crispEdges" />
<rect x="199" y="1193" width="1" height="52" fill="#0e0f12" shape-rendering="crispEdges"/>
<rect x="338" y="1193" width="1" height="52" fill="#0e0f12" shape-rendering="crispEdges"/>
<rect x="456" y="1193" width="1" height="52" fill="#0e0f12" shape-rendering="crispEdges"/>
<rect x="568" y="1193" width="1" height="52" fill="#0e0f12" shape-rendering="crispEdges"/>
<rect x="691" y="1193" width="1" height="52" fill="#0e0f12" shape-rendering="crispEdges"/>
<rect x="832" y="1193" width="1" height="52" fill="#0e0f12" shape-rendering="crispEdges"/>
<rect x="946" y="1193" width="1" height="52" fill="#0e0f12" shape-rendering="crispEdges"/>
<rect x="1013" y="1193" width="1" height="52" fill="#0e0f12" shape-rendering="crispEdges"/>
<rect x="963.5" y="1203.5" width="33" height="32" fill="none" stroke="#3cc0d8" stroke-width="2"/>
<line x1="980" y1="1208" x2="980" y2="1231" stroke="#3cc0d8" stroke-width="2"/><line x1="968" y1="1219.5" x2="992" y2="1219.5" stroke="#3cc0d8" stroke-width="2"/>
<rect x="45" y="1033" width="36" height="36" rx="3" fill="#27282e"/>
<rect x="1855" y="1036" width="30" height="29" rx="2" fill="#27282e"/>
<g stroke="#bdbdbd" stroke-width="1"><line x1="1859" y1="1039" x2="1881" y2="1061"/><line x1="1881" y1="1039" x2="1859" y2="1061"/></g>
<polygon points="1825.8,17.4 1829.3,17.9 1829.3,23.5 1825.8,24.0 1823.8,27.3 1825.2,30.6 1820.4,33.3 1818.2,30.5 1814.4,30.5 1812.2,33.3 1807.4,30.6 1808.8,27.3 1806.8,24.0 1803.3,23.5 1803.3,17.9 1806.8,17.4 1808.8,14.1 1807.4,10.8 1812.2,8.1 1814.4,10.9 1818.2,10.9 1820.4,8.1 1825.2,10.8 1823.8,14.1" fill="none" stroke="#e0e0e0" stroke-width="2" stroke-linejoin="round"/>
<circle cx="1816.3" cy="20.7" r="4.6" fill="none" stroke="#e0e0e0" stroke-width="2"/>
<polyline points="1862.5,11.3 1872.2,20.7 1862.5,30.1" fill="none" stroke="#e0e0e0" stroke-width="2"/>
<rect x="1854.3" y="50" width="29.5" height="22" fill="none" stroke="#b4b4b4" stroke-width="2"/>
<rect x="1868.8" y="73" width="2" height="4" fill="#b4b4b4"/><rect x="1858" y="76.3" width="22" height="2.5" fill="#b4b4b4"/>
<circle cx="1871" cy="71.2" r="1.1" fill="#e02020"/><circle cx="1879" cy="71.2" r="1.1" fill="#e02020"/><circle cx="1886.3" cy="71.5" r="1.6" fill="#ff2020"/>
<polygon points="1809,93 1837,93 1823,116.5" fill="#a0a0a0"/>
<rect x="1851" y="103" width="20" height="16" rx="2.5" fill="#f2b83c"/>
<path d="M1870,101 L1870,99 A5,5 0 0 1 1880.3,99 L1880.3,101" fill="none" stroke="#f2b83c" stroke-width="2"/>
<circle cx="1861" cy="108.5" r="2.3" fill="#111"/><rect x="1860" y="108.5" width="2.2" height="7" fill="#111"/>
<rect x="1413" y="118" width="394" height="2" fill="#e8e8e8" shape-rendering="crispEdges"/>
<rect x="1915" y="159" width="642" height="1" fill="#060708" shape-rendering="crispEdges"/>
<rect x="1915" y="160" width="642" height="1" fill="#060708" shape-rendering="crispEdges"/>
<rect x="1915" y="161" width="642" height="2" fill="#3e4048" shape-rendering="crispEdges"/>
<rect x="1915" y="163" width="642" height="1" fill="#060708" shape-rendering="crispEdges"/>
<rect x="1915" y="371" width="642" height="1" fill="#45474f" shape-rendering="crispEdges"/>
<rect x="1915" y="579" width="642" height="1" fill="#45474f" shape-rendering="crispEdges"/>
<rect x="1915" y="847" width="642" height="1" fill="#45474f" shape-rendering="crispEdges"/>
<rect x="1915" y="927" width="642" height="1" fill="#45474f" shape-rendering="crispEdges"/>
<rect x="2455" y="132" width="24" height="24" rx="2.5" fill="#2a2b30"/>
<path d="M2459.5,151.5 L2460.5,147 L2470.5,137 L2474,140.5 L2464,150.5 Z" fill="#3cbfdf"/>
<polygon points="1895,516 1915,526.5 1915,722 1895,731" fill="#201f26"/>
<g fill="none" stroke="#bdbdbd" stroke-width="1.1"><polyline points="1899,618 1905,624 1899,630"/><polyline points="1905,618 1911,624 1905,630"/></g>
<circle cx="2319" cy="909" r="11.5" fill="none" stroke="#bdbdbd" stroke-width="1.3"/>
<rect x="2318.3" y="900" width="1.6" height="11" fill="#bdbdbd"/><rect x="2318.3" y="914" width="1.6" height="2" fill="#bdbdbd"/>
<rect x="1915" y="1193" width="642" height="52" fill="#1e1f25" shape-rendering="crispEdges" />
<rect x="1916" y="1193" width="106" height="52" fill="#5a5a66" shape-rendering="crispEdges" />
<rect x="1915" y="1193" width="1" height="52" fill="#0e0f12" shape-rendering="crispEdges"/>
<rect x="2022" y="1193" width="1" height="52" fill="#0e0f12" shape-rendering="crispEdges"/>
<rect x="2129" y="1193" width="1" height="52" fill="#0e0f12" shape-rendering="crispEdges"/>
<rect x="2236" y="1193" width="1" height="52" fill="#0e0f12" shape-rendering="crispEdges"/>
<rect x="2343" y="1193" width="1" height="52" fill="#0e0f12" shape-rendering="crispEdges"/><g font-family='"Liberation Sans", "Noto Sans CJK SC", sans-serif'><text x="1857.90" y="67.50" font-size="15" font-weight="700" fill="#b4b4b4" textLength="23.27" lengthAdjust="spacingAndGlyphs">WP</text>
<text x="56.17" y="34.00" font-size="29" fill="#e6e6e6" textLength="59.88" lengthAdjust="spacingAndGlyphs">分时</text>
<text x="141.88" y="34.00" font-size="29" fill="#e6e6e6" textLength="61.43" lengthAdjust="spacingAndGlyphs">多日</text>
<text x="229.34" y="34.00" font-size="29" fill="#e6e6e6" textLength="46.43" lengthAdjust="spacingAndGlyphs">1分</text>
<text x="303.58" y="34.00" font-size="29" fill="#e6e6e6" textLength="45.88" lengthAdjust="spacingAndGlyphs">5分</text>
<text x="377.12" y="34.00" font-size="29" fill="#e6e6e6" textLength="63.80" lengthAdjust="spacingAndGlyphs">15分</text>
<text x="468.98" y="34.00" font-size="29" fill="#e6e6e6" textLength="62.30" lengthAdjust="spacingAndGlyphs">30分</text>
<text x="558.97" y="34.00" font-size="29" fill="#e6e6e6" textLength="63.13" lengthAdjust="spacingAndGlyphs">60分</text>
<text x="650.00" y="34.00" font-size="29" fill="#e6e6e6" textLength="75.16" lengthAdjust="spacingAndGlyphs">4小时</text>
<text x="750.66" y="34.00" font-size="29" fill="#e6e6e6" textLength="33.29" lengthAdjust="spacingAndGlyphs">日</text>
<text x="808.89" y="34.00" font-size="29" fill="#e6e6e6" textLength="32.27" lengthAdjust="spacingAndGlyphs">周</text>
<text x="866.71" y="34.00" font-size="29" fill="#e6e6e6" textLength="31.66" lengthAdjust="spacingAndGlyphs">月</text>
<text x="923.15" y="34.00" font-size="29" fill="#e6e6e6" textLength="60.65" lengthAdjust="spacingAndGlyphs">更多</text>
<text x="1369.56" y="34.00" font-size="29" fill="#e6e6e6" textLength="32.86" lengthAdjust="spacingAndGlyphs">F9</text>
<text x="1515.98" y="34.00" font-size="29" fill="#e6e6e6" textLength="118.38" lengthAdjust="spacingAndGlyphs">超级叠加</text>
<text x="1647.25" y="34.00" font-size="29" fill="#e6e6e6" textLength="59.39" lengthAdjust="spacingAndGlyphs">画线</text>
<text x="1722.97" y="34.00" font-size="29" fill="#e6e6e6" textLength="59.67" lengthAdjust="spacingAndGlyphs">工具</text>
<text x="1430.77" y="34.00" font-size="29" fill="#8f8f8f" textLength="59.67" lengthAdjust="spacingAndGlyphs">复权</text>
<text x="7.20" y="85.00" font-size="29" fill="#e0e0e0">分</text>
<text x="6.70" y="126.00" font-size="29" fill="#e0e0e0">时</text>
<text x="7.20" y="161.00" font-size="29" fill="#e0e0e0">图</text>
<text x="11.20" y="224.60" font-size="30" fill="#ffffff">K</text>
<text x="7.20" y="266.20" font-size="29" fill="#ffffff">线</text>
<text x="7.20" y="303.80" font-size="29" fill="#ffffff">图</text>
<text x="12.70" y="367.10" font-size="30" fill="#e0e0e0">T</text>
<text x="17.20" y="405.30" font-size="30" fill="#e0e0e0">I</text>
<text x="11.20" y="442.80" font-size="30" fill="#e0e0e0">C</text>
<text x="11.20" y="481.10" font-size="30" fill="#e0e0e0">K</text>
<text x="7.20" y="552.00" font-size="29" fill="#e0e0e0">成</text>
<text x="7.20" y="589.30" font-size="29" fill="#e0e0e0">交</text>
<text x="7.20" y="625.00" font-size="29" fill="#e0e0e0">明</text>
<text x="7.70" y="664.50" font-size="29" fill="#e0e0e0">细</text>
<text x="7.70" y="731.90" font-size="29" fill="#e0e0e0">深</text>
<text x="7.20" y="767.90" font-size="29" fill="#e0e0e0">度</text>
<text x="7.70" y="806.00" font-size="29" fill="#e0e0e0">资</text>
<text x="7.20" y="843.40" font-size="29" fill="#e0e0e0">料</text>
<text x="46.06" y="72.50" font-size="28" fill="#ececec" textLength="297.28" lengthAdjust="spacingAndGlyphs">GC.CMX[COMEX黄金]</text>
<text x="372.37" y="72.50" font-size="28" fill="#ececec" textLength="159.03" lengthAdjust="spacingAndGlyphs">2025/05/23</text>
<text x="549.80" y="74.20" font-size="30" fill="#ececec">收</text>
<text x="693.60" y="74.20" font-size="30" fill="#ececec">幅</text>
<text x="906.70" y="72.20" font-size="30" fill="#ececec">开</text>
<text x="1048.50" y="74.20" font-size="30" fill="#ececec">高</text>
<text x="1192.20" y="74.20" font-size="30" fill="#ececec">低</text>
<text x="1335.00" y="74.20" font-size="30" fill="#ececec">结</text>
<text x="1428.20" y="74.20" font-size="30" fill="#ececec">仓</text>
<text x="1581.50" y="73.20" font-size="30" fill="#ececec">量</text>
<text x="1719.00" y="74.20" font-size="30" fill="#ececec">增</text>
<text x="583.66" y="72.50" font-size="28" fill="#fb2c36" textLength="89.25" lengthAdjust="spacingAndGlyphs">3328.1</text>
<text x="727.00" y="72.50" font-size="28" fill="#fb2c36" textLength="160.33" lengthAdjust="spacingAndGlyphs">1.00%(33.1)</text>
<text x="939.27" y="72.50" font-size="28" fill="#fb2c36" textLength="88.43" lengthAdjust="spacingAndGlyphs">3295.1</text>
<text x="1081.93" y="72.50" font-size="28" fill="#fb2c36" textLength="91.76" lengthAdjust="spacingAndGlyphs">3334.4</text>
<text x="1225.95" y="72.50" font-size="28" fill="#14c14a" textLength="89.92" lengthAdjust="spacingAndGlyphs">3285.5</text>
<text x="1367.84" y="72.50" font-size="28" fill="#fb2c36" textLength="41.36" lengthAdjust="spacingAndGlyphs">0.0</text>
<text x="1458.43" y="72.50" font-size="28" fill="#ececec" textLength="106.63" lengthAdjust="spacingAndGlyphs">15.21万</text>
<text x="1614.15" y="72.50" font-size="28" fill="#ececec" textLength="86.42" lengthAdjust="spacingAndGlyphs">8.14万</text>
<text x="1752.90" y="72.50" font-size="28" fill="#14c14a" textLength="78.89" lengthAdjust="spacingAndGlyphs">-8801</text>
<text x="46.45" y="115.70" font-size="30" fill="#ececec" textLength="63.36" lengthAdjust="spacingAndGlyphs">MA5</text>
<text x="230.73" y="115.70" font-size="30" fill="#ececec" textLength="81.20" lengthAdjust="spacingAndGlyphs">MA10</text>
<text x="430.03" y="115.70" font-size="30" fill="#ececec" textLength="81.20" lengthAdjust="spacingAndGlyphs">MA20</text>
<text x="630.47" y="115.70" font-size="30" fill="#ececec" textLength="79.73" lengthAdjust="spacingAndGlyphs">MA60</text>
<text x="830.89" y="115.70" font-size="30" fill="#ececec" textLength="95.58" lengthAdjust="spacingAndGlyphs">MA120</text>
<text x="1045.96" y="115.70" font-size="30" fill="#ececec" textLength="97.03" lengthAdjust="spacingAndGlyphs">MA250</text>
<text x="121.46" y="115.70" font-size="30" fill="#ff9900" textLength="86.71" lengthAdjust="spacingAndGlyphs">3292.9</text>
<text x="205.20" y="116.30" font-size="40" fill="#ff9900" textLength="18.40" lengthAdjust="spacingAndGlyphs">↑</text>
<text x="320.76" y="115.70" font-size="30" fill="#ffff00" textLength="86.40" lengthAdjust="spacingAndGlyphs">3259.1</text>
<text x="405.50" y="116.30" font-size="40" fill="#ffff00" textLength="18.40" lengthAdjust="spacingAndGlyphs">↓</text>
<text x="521.06" y="115.70" font-size="30" fill="#ff00ff" textLength="86.61" lengthAdjust="spacingAndGlyphs">3293.3</text>
<text x="605.50" y="116.30" font-size="40" fill="#ff00ff" textLength="18.40" lengthAdjust="spacingAndGlyphs">↓</text>
<text x="720.65" y="115.70" font-size="30" fill="#00c000" textLength="86.82" lengthAdjust="spacingAndGlyphs">3162.7</text>
<text x="804.80" y="116.30" font-size="40" fill="#00c000" textLength="18.40" lengthAdjust="spacingAndGlyphs">↑</text>
<text x="935.66" y="115.70" font-size="30" fill="#44ffff" textLength="86.57" lengthAdjust="spacingAndGlyphs">2965.0</text>
<text x="1020.40" y="116.30" font-size="40" fill="#44ffff" textLength="18.40" lengthAdjust="spacingAndGlyphs">↑</text>
<text x="1152.06" y="115.70" font-size="30" fill="#ff8080" textLength="86.61" lengthAdjust="spacingAndGlyphs">2745.7</text>
<text x="1235.80" y="116.30" font-size="40" fill="#ff8080" textLength="18.40" lengthAdjust="spacingAndGlyphs">↑</text>
<text x="1411.99" y="115.70" font-size="30" fill="#ececec" textLength="395.65" lengthAdjust="spacingAndGlyphs">2025/01/14-2025/05/23(93日)</text>
<text x="1766.65" y="192.40" font-size="30" fill="#c0c0c0" textLength="63.57" lengthAdjust="spacingAndGlyphs">3490</text>
<text x="1766.65" y="357.40" font-size="30" fill="#c0c0c0" textLength="63.57" lengthAdjust="spacingAndGlyphs">3280</text>
<text x="1766.65" y="522.40" font-size="30" fill="#c0c0c0" textLength="63.57" lengthAdjust="spacingAndGlyphs">3070</text>
<text x="1766.65" y="687.40" font-size="30" fill="#c0c0c0" textLength="63.57" lengthAdjust="spacingAndGlyphs">2860</text>
<text x="1766.65" y="851.40" font-size="30" fill="#c0c0c0" textLength="63.57" lengthAdjust="spacingAndGlyphs">2650</text>
<text x="1766.65" y="1016.40" font-size="30" fill="#c0c0c0" textLength="63.57" lengthAdjust="spacingAndGlyphs">2440</text>
<text x="1765.66" y="1131.30" font-size="30" fill="#c0c0c0" textLength="39.22" lengthAdjust="spacingAndGlyphs">0.0</text>
<text x="1188.03" y="175.70" font-size="29" fill="#fb2c36" textLength="86.43" lengthAdjust="spacingAndGlyphs">3509.9</text>
<text x="82.46" y="834.30" font-size="30.5" fill="#19c04c" textLength="87.25" lengthAdjust="spacingAndGlyphs">2672.0</text>
<text x="56.14" y="1061.90" font-size="29" fill="#ececec" textLength="13.83" lengthAdjust="spacingAndGlyphs">?</text>
<text x="81.92" y="1061.90" font-size="30.8" fill="#ececec" textLength="201.12" lengthAdjust="spacingAndGlyphs">MACD(12,26,9)</text>
<text x="291.37" y="1061.90" font-size="30.8" fill="#ececec" textLength="163.09" lengthAdjust="spacingAndGlyphs">DIF: 17.1628</text>
<text x="462.88" y="1061.90" font-size="30.8" fill="#ff9900" textLength="174.82" lengthAdjust="spacingAndGlyphs">DEA: 21.5305</text>
<text x="647.50" y="1061.90" font-size="30.8" fill="#44ffff" textLength="201.28" lengthAdjust="spacingAndGlyphs">MACD: -8.7355</text>
<text x="56.19" y="1180.40" font-size="31.4" fill="#a8a8a8" textLength="73.30" lengthAdjust="spacingAndGlyphs">25-01</text>
<text x="310.36" y="1180.40" font-size="31.4" fill="#a8a8a8" textLength="75.66" lengthAdjust="spacingAndGlyphs">25-02</text>
<text x="673.16" y="1180.40" font-size="31.4" fill="#a8a8a8" textLength="75.15" lengthAdjust="spacingAndGlyphs">25-03</text>
<text x="1053.84" y="1180.40" font-size="31.4" fill="#a8a8a8" textLength="76.80" lengthAdjust="spacingAndGlyphs">25-04</text>
<text x="1435.56" y="1180.40" font-size="31.4" fill="#a8a8a8" textLength="75.15" lengthAdjust="spacingAndGlyphs">25-05</text>
<text x="59.93" y="1230.40" font-size="32.5" fill="#e8e8e8" textLength="89.46" lengthAdjust="spacingAndGlyphs">MACD</text>
<text x="215.66" y="1230.40" font-size="32.5" fill="#e8e8e8" textLength="72.51" lengthAdjust="spacingAndGlyphs">BOLL</text>
<text x="354.49" y="1230.40" font-size="32.5" fill="#e8e8e8" textLength="52.46" lengthAdjust="spacingAndGlyphs">KDJ</text>
<text x="473.04" y="1230.40" font-size="32.5" fill="#e8e8e8" textLength="45.01" lengthAdjust="spacingAndGlyphs">RSI</text>
<text x="584.75" y="1230.40" font-size="32.5" fill="#e8e8e8" textLength="57.01" lengthAdjust="spacingAndGlyphs">SAR</text>
<text x="709.20" y="1230.40" font-size="32.5" fill="#e8e8e8" textLength="72.34" lengthAdjust="spacingAndGlyphs">W&amp;R</text>
<text x="848.76" y="1230.40" font-size="32.5" fill="#e8e8e8" textLength="47.26" lengthAdjust="spacingAndGlyphs">CCI</text>
<text x="1931.15" y="44.80" font-size="40" font-weight="700" fill="#ececec" textLength="138.80" lengthAdjust="spacingAndGlyphs">COMEX</text>
<text x="2070.61" y="47.40" font-size="35.5" font-weight="700" fill="#ececec" textLength="74.15" lengthAdjust="spacingAndGlyphs">黄金</text>
<text x="2494.11" y="45.10" font-size="45.5" fill="#c8c8c8" textLength="57.59" lengthAdjust="spacingAndGlyphs">GC</text>
<text x="1928.46" y="116.70" font-size="66" font-weight="700" fill="#fb2c36" textLength="189.70" lengthAdjust="spacingAndGlyphs">3328.1</text>
<text x="2297.50" y="105.80" font-size="37" font-weight="700" fill="#fb2c36" textLength="93.83" lengthAdjust="spacingAndGlyphs">+33.1</text>
<text x="2418.36" y="105.80" font-size="37" font-weight="700" fill="#fb2c36" textLength="131.29" lengthAdjust="spacingAndGlyphs">+1.00%</text>
<text x="1925.09" y="157.00" font-size="30.5" fill="#9a9a9a" textLength="101.98" lengthAdjust="spacingAndGlyphs">COMEX</text>
<text x="2042.89" y="157.00" font-size="30.5" fill="#9a9a9a" textLength="58.39" lengthAdjust="spacingAndGlyphs">USD</text>
<text x="2118.29" y="157.00" font-size="30.5" fill="#9a9a9a" textLength="92.40" lengthAdjust="spacingAndGlyphs">7:13:00</text>
<text x="2226.52" y="158.00" font-size="29" fill="#ffff00" textLength="144.91" lengthAdjust="spacingAndGlyphs">延时15分钟</text>
<text x="1926.34" y="197.90" font-size="29.5" fill="#bdbdbd" textLength="60.81" lengthAdjust="spacingAndGlyphs">卖五</text>
<text x="2168.80" y="197.40" font-size="31" fill="#fb2c36">3328.6</text>
<text x="2414.00" y="197.40" font-size="31" fill="#ececec">4</text>
<text x="1926.30" y="238.90" font-size="29.5" fill="#bdbdbd" textLength="61.91" lengthAdjust="spacingAndGlyphs">卖四</text>
<text x="2168.80" y="238.40" font-size="31" fill="#fb2c36">3328.5</text>
<text x="2415.00" y="238.40" font-size="31" fill="#ececec">5</text>
<text x="1926.30" y="279.90" font-size="29.5" fill="#bdbdbd" textLength="61.91" lengthAdjust="spacingAndGlyphs">卖三</text>
<text x="2168.80" y="279.40" font-size="31" fill="#fb2c36">3328.4</text>
<text x="2415.00" y="279.40" font-size="31" fill="#ececec">3</text>
<text x="1926.34" y="320.90" font-size="29.5" fill="#bdbdbd" textLength="60.81" lengthAdjust="spacingAndGlyphs">卖二</text>
<text x="2168.80" y="320.40" font-size="31" fill="#fb2c36">3328.3</text>
<text x="2415.00" y="320.40" font-size="31" fill="#ececec">5</text>
<text x="2513.50" y="320.40" font-size="31" fill="#fb2c36">+2</text>
<text x="1926.34" y="361.90" font-size="29.5" fill="#bdbdbd" textLength="60.81" lengthAdjust="spacingAndGlyphs">卖一</text>
<text x="2168.80" y="361.40" font-size="31" fill="#fb2c36">3328.2</text>
<text x="2415.00" y="361.40" font-size="31" fill="#ececec">3</text>
<text x="2513.50" y="361.40" font-size="31" fill="#fb2c36">+1</text>
<text x="1926.34" y="405.40" font-size="29.5" fill="#bdbdbd" textLength="60.81" lengthAdjust="spacingAndGlyphs">买一</text>
<text x="2168.80" y="404.90" font-size="31" fill="#fb2c36">3327.9</text>
<text x="2415.00" y="404.90" font-size="31" fill="#ececec">3</text>
<text x="2521.50" y="404.90" font-size="31" fill="#14c14a">-1</text>
<text x="1926.34" y="446.40" font-size="29.5" fill="#bdbdbd" textLength="60.81" lengthAdjust="spacingAndGlyphs">买二</text>
<text x="2168.80" y="445.90" font-size="31" fill="#fb2c36">3327.8</text>
<text x="2415.00" y="445.90" font-size="31" fill="#ececec">5</text>
<text x="1926.30" y="487.40" font-size="29.5" fill="#bdbdbd" textLength="61.91" lengthAdjust="spacingAndGlyphs">买三</text>
<text x="2168.80" y="486.90" font-size="31" fill="#fb2c36">3327.7</text>
<text x="2415.00" y="486.90" font-size="31" fill="#ececec">8</text>
<text x="1926.30" y="528.40" font-size="29.5" fill="#bdbdbd" textLength="61.91" lengthAdjust="spacingAndGlyphs">买四</text>
<text x="2168.80" y="527.90" font-size="31" fill="#fb2c36">3327.6</text>
<text x="2415.00" y="527.90" font-size="31" fill="#ececec">6</text>
<text x="1926.34" y="569.40" font-size="29.5" fill="#bdbdbd" textLength="60.81" lengthAdjust="spacingAndGlyphs">买五</text>
<text x="2168.80" y="568.90" font-size="31" fill="#fb2c36">3327.5</text>
<text x="2398.00" y="568.90" font-size="31" fill="#ececec">10</text>
<text x="2513.50" y="568.90" font-size="31" fill="#fb2c36">+3</text>
<text x="1927.40" y="613.10" font-size="29.5" fill="#bdbdbd">总量</text>
<text x="2136.80" y="611.90" font-size="31" fill="#ececec">81388</text>
<text x="2248.30" y="613.10" font-size="29.5" fill="#bdbdbd">现手</text>
<text x="2527.50" y="611.90" font-size="31" fill="#ececec">1</text>
<text x="1927.40" y="651.00" font-size="29.5" fill="#bdbdbd">结算价</text>
<text x="2248.30" y="651.00" font-size="29.5" fill="#bdbdbd">开盘</text>
<text x="2450.50" y="649.80" font-size="31" fill="#fb2c36">3295.1</text>
<text x="1927.40" y="688.90" font-size="29.5" fill="#bdbdbd">最高</text>
<text x="2127.80" y="687.70" font-size="31" fill="#fb2c36">3334.4</text>
<text x="2248.30" y="688.90" font-size="29.5" fill="#bdbdbd">最低</text>
<text x="2449.50" y="687.70" font-size="31" fill="#14c14a">3285.5</text>
<text x="1927.40" y="726.80" font-size="29.5" fill="#bdbdbd">均价</text>
<text x="2127.80" y="725.60" font-size="31" fill="#fb2c36">3314.3</text>
<text x="2248.30" y="726.80" font-size="29.5" fill="#bdbdbd">振幅</text>
<text x="2456.50" y="725.60" font-size="31" fill="#ececec">1.48%</text>
<text x="1927.40" y="764.70" font-size="29.5" fill="#bdbdbd">外盘</text>
<text x="2131.80" y="763.50" font-size="31" fill="#fb2c36">3.67万</text>
<text x="2246.30" y="764.70" font-size="29.5" fill="#bdbdbd">内盘</text>
<text x="2453.50" y="763.50" font-size="31" fill="#14c14a">4.47万</text>
<text x="1926.40" y="802.60" font-size="29.5" fill="#bdbdbd">昨结</text>
<text x="2127.80" y="801.40" font-size="31" fill="#ececec">3295.0</text>
<text x="2247.30" y="802.60" font-size="29.5" fill="#bdbdbd">昨收</text>
<text x="2450.50" y="801.40" font-size="31" fill="#ececec">3295.1</text>
<text x="1927.40" y="840.50" font-size="29.5" fill="#bdbdbd">涨停</text>
<text x="2179.80" y="839.30" font-size="31" fill="#fb2c36">0.0</text>
<text x="2248.30" y="840.50" font-size="29.5" fill="#bdbdbd">跌停</text>
<text x="2501.50" y="839.30" font-size="31" fill="#14c14a">0.1</text>
<text x="1927.40" y="882.20" font-size="29.5" fill="#bdbdbd">持仓</text>
<text x="2114.80" y="881.00" font-size="31" fill="#ececec">15.21万</text>
<text x="2248.30" y="882.20" font-size="29.5" fill="#bdbdbd">增仓</text>
<text x="2463.00" y="881.00" font-size="31" fill="#14c14a">-8801</text>
<text x="1927.40" y="922.00" font-size="29.5" fill="#bdbdbd">估结算</text>
<text x="2248.60" y="922.00" font-size="29.5" fill="#bdbdbd">基差</text>
<text x="2486.00" y="920.80" font-size="31" fill="#ececec">0.00</text>
<text x="1921.53" y="971.00" font-size="29.5" fill="#e0e0e0" textLength="63.95" lengthAdjust="spacingAndGlyphs">时间</text>
<text x="2242.95" y="971.00" font-size="29.5" fill="#e0e0e0" textLength="61.71" lengthAdjust="spacingAndGlyphs">价格</text>
<text x="2489.23" y="971.00" font-size="29.5" fill="#e0e0e0" textLength="63.05" lengthAdjust="spacingAndGlyphs">现手</text>
<text x="1923.99" y="1006.20" font-size="31" fill="#c0c0c0" textLength="122.19" lengthAdjust="spacingAndGlyphs">07:12:38</text>
<text x="2209.60" y="1006.20" font-size="31" fill="#fb2c36">3327.5</text>
<text x="2532.50" y="1006.20" font-size="31" fill="#14c14a">1</text>
<text x="2025.00" y="1046.10" font-size="31" fill="#c0c0c0">2</text>
<text x="2209.60" y="1046.10" font-size="31" fill="#fb2c36">3327.6</text>
<text x="2532.50" y="1046.10" font-size="31" fill="#fb2c36">1</text>
<text x="1923.99" y="1086.00" font-size="31" fill="#c0c0c0" textLength="122.19" lengthAdjust="spacingAndGlyphs">07:12:44</text>
<text x="2209.60" y="1086.00" font-size="31" fill="#fb2c36">3327.6</text>
<text x="2532.50" y="1086.00" font-size="31" fill="#fb2c36">1</text>
<text x="1923.99" y="1125.90" font-size="31" fill="#c0c0c0" textLength="122.19" lengthAdjust="spacingAndGlyphs">07:12:54</text>
<text x="2210.60" y="1125.90" font-size="31" fill="#fb2c36">3328.1</text>
<text x="2532.50" y="1125.90" font-size="31" fill="#fb2c36">2</text>
<text x="1923.98" y="1165.80" font-size="31" fill="#c0c0c0" textLength="123.23" lengthAdjust="spacingAndGlyphs">07:12:57</text>
<text x="2210.60" y="1165.80" font-size="31" fill="#fb2c36">3328.1</text>
<text x="2532.50" y="1165.80" font-size="31" fill="#14c14a">1</text>
<text x="1940.14" y="1229.00" font-size="29" fill="#e6e6e6" textLength="59.73" lengthAdjust="spacingAndGlyphs">明细</text>
<text x="2046.98" y="1229.00" font-size="29" fill="#e6e6e6" textLength="59.05" lengthAdjust="spacingAndGlyphs">分价</text>
<text x="2154.37" y="1229.00" font-size="29" fill="#e6e6e6" textLength="60.02" lengthAdjust="spacingAndGlyphs">分笔</text>
<text x="2261.58" y="1229.00" font-size="29" fill="#e6e6e6" textLength="58.95" lengthAdjust="spacingAndGlyphs">资讯</text></g></svg></body></html>
